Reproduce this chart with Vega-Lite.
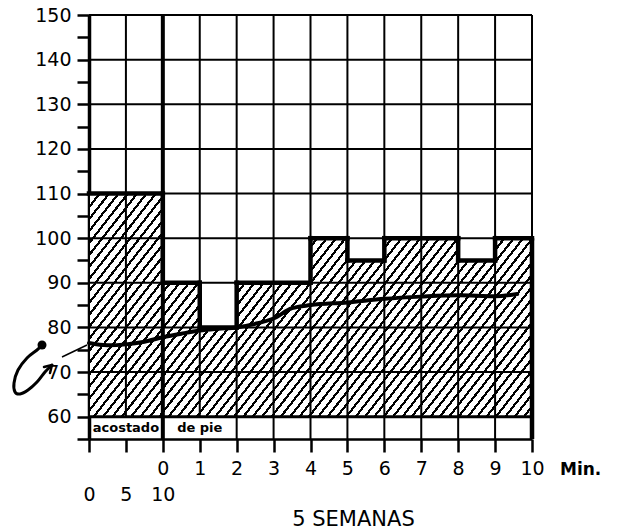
{
  "$schema": "https://vega.github.io/schema/vega-lite/v6.json",
  "width": 443,
  "height": 424,
  "autosize": {"type": "none"},
  "padding": {"left": 89, "top": 15, "right": 85, "bottom": 92},
  "background": "white",
  "config": {
    "view": {"stroke": null},
    "axisX": {"domainColor": "black", "domainWidth": 2.5, "tickColor": "black", "tickWidth": 2.5, "tickSize": 13, "labelFont": "DejaVu Sans", "labelFontSize": 19, "labelColor": "black", "labelPadding": 7, "labelLineHeight": 26, "labelFlush": false, "labelOverlap": false, "labelBound": false, "grid": false, "titleFont": "DejaVu Sans", "titleFontSize": 21, "titleFontWeight": "normal", "titleColor": "black"},
    "axisY": {"domainColor": "black", "domainWidth": 3.5, "tickColor": "black", "tickWidth": 2.5, "tickSize": 12, "labelFont": "DejaVu Sans", "labelFontSize": 19, "labelColor": "black", "labelPadding": 6, "labelFlush": false, "labelOverlap": false, "labelBound": false, "grid": false, "zindex": 1}
  },
  "datasets": {
    "bars": [
      {"start": 0, "end": 2, "value": 110},
      {"start": 2, "end": 3, "value": 90},
      {"start": 3, "end": 4, "value": 80},
      {"start": 4, "end": 6, "value": 90},
      {"start": 6, "end": 7, "value": 100},
      {"start": 7, "end": 8, "value": 95},
      {"start": 8, "end": 10, "value": 100},
      {"start": 10, "end": 11, "value": 95},
      {"start": 11, "end": 12, "value": 100}
    ],
    "cols": [{"c": 0}, {"c": 1}, {"c": 2}, {"c": 3}, {"c": 4}, {"c": 5}, {"c": 6}, {"c": 7}, {"c": 8}, {"c": 9}, {"c": 10}, {"c": 11}, {"c": 12}],
    "rows": [{"r": 60}, {"r": 70}, {"r": 80}, {"r": 90}, {"r": 100}, {"r": 110}, {"r": 120}, {"r": 130}, {"r": 140}, {"r": 150}],
    "pulse": [
      {"t": 0, "bpm": 76.5}, {"t": 0.5, "bpm": 76.0}, {"t": 1, "bpm": 76.2}, {"t": 1.5, "bpm": 76.8},
      {"t": 2, "bpm": 77.8}, {"t": 2.5, "bpm": 78.6}, {"t": 3, "bpm": 79.3}, {"t": 3.5, "bpm": 79.7},
      {"t": 4, "bpm": 80.0}, {"t": 4.5, "bpm": 80.8}, {"t": 5, "bpm": 82.0}, {"t": 5.5, "bpm": 84.3},
      {"t": 6, "bpm": 85.0}, {"t": 7, "bpm": 85.6}, {"t": 8, "bpm": 86.4}, {"t": 9, "bpm": 86.9},
      {"t": 10, "bpm": 87.2}, {"t": 11, "bpm": 87.0}, {"t": 11.6, "bpm": 87.5}
    ],
    "hook": [
      {"k": 0, "t": -1.273, "bpm": 76.06}, {"k": 1, "t": -1.408, "bpm": 74.94}, {"k": 2, "t": -1.679, "bpm": 73.15},
      {"k": 3, "t": -1.923, "bpm": 70.46}, {"k": 4, "t": -2.031, "bpm": 67.55}, {"k": 5, "t": -2.004, "bpm": 65.53},
      {"k": 6, "t": -1.869, "bpm": 65.08}, {"k": 7, "t": -1.652, "bpm": 65.98}, {"k": 8, "t": -1.408, "bpm": 67.77},
      {"k": 9, "t": -1.192, "bpm": 70.01}, {"k": 10, "t": -1.002, "bpm": 71.58}
    ],
    "head": [
      {"k": 0, "t": -1.219, "bpm": 71.13}, {"k": 1, "t": -1.002, "bpm": 71.58}, {"k": 2, "t": -1.056, "bpm": 69.79}
    ],
    "lead": [
      {"k": 0, "t": -0.731, "bpm": 73.37}, {"k": 1, "t": -0.054, "bpm": 76.06}
    ]
  },
  "layer": [
    {
      "data": {"values": [{}]},
      "mark": {"type": "rect", "stroke": null, "fill": {"gradient": "linear", "x1": 0, "y1": 0, "x2": 1.2066, "y2": 0.4749, "stops": [
        {"offset": 0, "color": "#000"}, {"offset": 0.00455, "color": "#000"}, {"offset": 0.00455, "color": "#fff"}, {"offset": 0.01515, "color": "#fff"},
        {"offset": 0.01515, "color": "#000"}, {"offset": 0.0197, "color": "#000"}, {"offset": 0.0197, "color": "#fff"}, {"offset": 0.0303, "color": "#fff"},
        {"offset": 0.0303, "color": "#000"}, {"offset": 0.03485, "color": "#000"}, {"offset": 0.03485, "color": "#fff"}, {"offset": 0.04545, "color": "#fff"},
        {"offset": 0.04545, "color": "#000"}, {"offset": 0.05, "color": "#000"}, {"offset": 0.05, "color": "#fff"}, {"offset": 0.06061, "color": "#fff"},
        {"offset": 0.06061, "color": "#000"}, {"offset": 0.06516, "color": "#000"}, {"offset": 0.06516, "color": "#fff"}, {"offset": 0.07576, "color": "#fff"},
        {"offset": 0.07576, "color": "#000"}, {"offset": 0.08031, "color": "#000"}, {"offset": 0.08031, "color": "#fff"}, {"offset": 0.09091, "color": "#fff"},
        {"offset": 0.09091, "color": "#000"}, {"offset": 0.09546, "color": "#000"}, {"offset": 0.09546, "color": "#fff"}, {"offset": 0.10606, "color": "#fff"},
        {"offset": 0.10606, "color": "#000"}, {"offset": 0.11061, "color": "#000"}, {"offset": 0.11061, "color": "#fff"}, {"offset": 0.12121, "color": "#fff"},
        {"offset": 0.12121, "color": "#000"}, {"offset": 0.12576, "color": "#000"}, {"offset": 0.12576, "color": "#fff"}, {"offset": 0.13636, "color": "#fff"},
        {"offset": 0.13636, "color": "#000"}, {"offset": 0.14091, "color": "#000"}, {"offset": 0.14091, "color": "#fff"}, {"offset": 0.15152, "color": "#fff"},
        {"offset": 0.15152, "color": "#000"}, {"offset": 0.15607, "color": "#000"}, {"offset": 0.15607, "color": "#fff"}, {"offset": 0.16667, "color": "#fff"},
        {"offset": 0.16667, "color": "#000"}, {"offset": 0.17122, "color": "#000"}, {"offset": 0.17122, "color": "#fff"}, {"offset": 0.18182, "color": "#fff"},
        {"offset": 0.18182, "color": "#000"}, {"offset": 0.18637, "color": "#000"}, {"offset": 0.18637, "color": "#fff"}, {"offset": 0.19697, "color": "#fff"},
        {"offset": 0.19697, "color": "#000"}, {"offset": 0.20152, "color": "#000"}, {"offset": 0.20152, "color": "#fff"}, {"offset": 0.21212, "color": "#fff"},
        {"offset": 0.21212, "color": "#000"}, {"offset": 0.21667, "color": "#000"}, {"offset": 0.21667, "color": "#fff"}, {"offset": 0.22727, "color": "#fff"},
        {"offset": 0.22727, "color": "#000"}, {"offset": 0.23182, "color": "#000"}, {"offset": 0.23182, "color": "#fff"}, {"offset": 0.24242, "color": "#fff"},
        {"offset": 0.24242, "color": "#000"}, {"offset": 0.24697, "color": "#000"}, {"offset": 0.24697, "color": "#fff"}, {"offset": 0.25758, "color": "#fff"},
        {"offset": 0.25758, "color": "#000"}, {"offset": 0.26213, "color": "#000"}, {"offset": 0.26213, "color": "#fff"}, {"offset": 0.27273, "color": "#fff"},
        {"offset": 0.27273, "color": "#000"}, {"offset": 0.27728, "color": "#000"}, {"offset": 0.27728, "color": "#fff"}, {"offset": 0.28788, "color": "#fff"},
        {"offset": 0.28788, "color": "#000"}, {"offset": 0.29243, "color": "#000"}, {"offset": 0.29243, "color": "#fff"}, {"offset": 0.30303, "color": "#fff"},
        {"offset": 0.30303, "color": "#000"}, {"offset": 0.30758, "color": "#000"}, {"offset": 0.30758, "color": "#fff"}, {"offset": 0.31818, "color": "#fff"},
        {"offset": 0.31818, "color": "#000"}, {"offset": 0.32273, "color": "#000"}, {"offset": 0.32273, "color": "#fff"}, {"offset": 0.33333, "color": "#fff"},
        {"offset": 0.33333, "color": "#000"}, {"offset": 0.33788, "color": "#000"}, {"offset": 0.33788, "color": "#fff"}, {"offset": 0.34848, "color": "#fff"},
        {"offset": 0.34848, "color": "#000"}, {"offset": 0.35303, "color": "#000"}, {"offset": 0.35303, "color": "#fff"}, {"offset": 0.36364, "color": "#fff"},
        {"offset": 0.36364, "color": "#000"}, {"offset": 0.36819, "color": "#000"}, {"offset": 0.36819, "color": "#fff"}, {"offset": 0.37879, "color": "#fff"},
        {"offset": 0.37879, "color": "#000"}, {"offset": 0.38334, "color": "#000"}, {"offset": 0.38334, "color": "#fff"}, {"offset": 0.39394, "color": "#fff"},
        {"offset": 0.39394, "color": "#000"}, {"offset": 0.39849, "color": "#000"}, {"offset": 0.39849, "color": "#fff"}, {"offset": 0.40909, "color": "#fff"},
        {"offset": 0.40909, "color": "#000"}, {"offset": 0.41364, "color": "#000"}, {"offset": 0.41364, "color": "#fff"}, {"offset": 0.42424, "color": "#fff"},
        {"offset": 0.42424, "color": "#000"}, {"offset": 0.42879, "color": "#000"}, {"offset": 0.42879, "color": "#fff"}, {"offset": 0.43939, "color": "#fff"},
        {"offset": 0.43939, "color": "#000"}, {"offset": 0.44394, "color": "#000"}, {"offset": 0.44394, "color": "#fff"}, {"offset": 0.45455, "color": "#fff"},
        {"offset": 0.45455, "color": "#000"}, {"offset": 0.4591, "color": "#000"}, {"offset": 0.4591, "color": "#fff"}, {"offset": 0.4697, "color": "#fff"},
        {"offset": 0.4697, "color": "#000"}, {"offset": 0.47425, "color": "#000"}, {"offset": 0.47425, "color": "#fff"}, {"offset": 0.48485, "color": "#fff"},
        {"offset": 0.48485, "color": "#000"}, {"offset": 0.4894, "color": "#000"}, {"offset": 0.4894, "color": "#fff"}, {"offset": 0.5, "color": "#fff"},
        {"offset": 0.5, "color": "#000"}, {"offset": 0.50455, "color": "#000"}, {"offset": 0.50455, "color": "#fff"}, {"offset": 0.51515, "color": "#fff"},
        {"offset": 0.51515, "color": "#000"}, {"offset": 0.5197, "color": "#000"}, {"offset": 0.5197, "color": "#fff"}, {"offset": 0.5303, "color": "#fff"},
        {"offset": 0.5303, "color": "#000"}, {"offset": 0.53485, "color": "#000"}, {"offset": 0.53485, "color": "#fff"}, {"offset": 0.54545, "color": "#fff"},
        {"offset": 0.54545, "color": "#000"}, {"offset": 0.55, "color": "#000"}, {"offset": 0.55, "color": "#fff"}, {"offset": 0.56061, "color": "#fff"},
        {"offset": 0.56061, "color": "#000"}, {"offset": 0.56516, "color": "#000"}, {"offset": 0.56516, "color": "#fff"}, {"offset": 0.57576, "color": "#fff"},
        {"offset": 0.57576, "color": "#000"}, {"offset": 0.58031, "color": "#000"}, {"offset": 0.58031, "color": "#fff"}, {"offset": 0.59091, "color": "#fff"},
        {"offset": 0.59091, "color": "#000"}, {"offset": 0.59546, "color": "#000"}, {"offset": 0.59546, "color": "#fff"}, {"offset": 0.60606, "color": "#fff"},
        {"offset": 0.60606, "color": "#000"}, {"offset": 0.61061, "color": "#000"}, {"offset": 0.61061, "color": "#fff"}, {"offset": 0.62121, "color": "#fff"},
        {"offset": 0.62121, "color": "#000"}, {"offset": 0.62576, "color": "#000"}, {"offset": 0.62576, "color": "#fff"}, {"offset": 0.63636, "color": "#fff"},
        {"offset": 0.63636, "color": "#000"}, {"offset": 0.64091, "color": "#000"}, {"offset": 0.64091, "color": "#fff"}, {"offset": 0.65152, "color": "#fff"},
        {"offset": 0.65152, "color": "#000"}, {"offset": 0.65607, "color": "#000"}, {"offset": 0.65607, "color": "#fff"}, {"offset": 0.66667, "color": "#fff"},
        {"offset": 0.66667, "color": "#000"}, {"offset": 0.67122, "color": "#000"}, {"offset": 0.67122, "color": "#fff"}, {"offset": 0.68182, "color": "#fff"},
        {"offset": 0.68182, "color": "#000"}, {"offset": 0.68637, "color": "#000"}, {"offset": 0.68637, "color": "#fff"}, {"offset": 0.69697, "color": "#fff"},
        {"offset": 0.69697, "color": "#000"}, {"offset": 0.70152, "color": "#000"}, {"offset": 0.70152, "color": "#fff"}, {"offset": 0.71212, "color": "#fff"},
        {"offset": 0.71212, "color": "#000"}, {"offset": 0.71667, "color": "#000"}, {"offset": 0.71667, "color": "#fff"}, {"offset": 0.72727, "color": "#fff"},
        {"offset": 0.72727, "color": "#000"}, {"offset": 0.73182, "color": "#000"}, {"offset": 0.73182, "color": "#fff"}, {"offset": 0.74242, "color": "#fff"},
        {"offset": 0.74242, "color": "#000"}, {"offset": 0.74697, "color": "#000"}, {"offset": 0.74697, "color": "#fff"}, {"offset": 0.75758, "color": "#fff"},
        {"offset": 0.75758, "color": "#000"}, {"offset": 0.76213, "color": "#000"}, {"offset": 0.76213, "color": "#fff"}, {"offset": 0.77273, "color": "#fff"},
        {"offset": 0.77273, "color": "#000"}, {"offset": 0.77728, "color": "#000"}, {"offset": 0.77728, "color": "#fff"}, {"offset": 0.78788, "color": "#fff"},
        {"offset": 0.78788, "color": "#000"}, {"offset": 0.79243, "color": "#000"}, {"offset": 0.79243, "color": "#fff"}, {"offset": 0.80303, "color": "#fff"},
        {"offset": 0.80303, "color": "#000"}, {"offset": 0.80758, "color": "#000"}, {"offset": 0.80758, "color": "#fff"}, {"offset": 0.81818, "color": "#fff"},
        {"offset": 0.81818, "color": "#000"}, {"offset": 0.82273, "color": "#000"}, {"offset": 0.82273, "color": "#fff"}, {"offset": 0.83333, "color": "#fff"},
        {"offset": 0.83333, "color": "#000"}, {"offset": 0.83788, "color": "#000"}, {"offset": 0.83788, "color": "#fff"}, {"offset": 0.84848, "color": "#fff"},
        {"offset": 0.84848, "color": "#000"}, {"offset": 0.85303, "color": "#000"}, {"offset": 0.85303, "color": "#fff"}, {"offset": 0.86364, "color": "#fff"},
        {"offset": 0.86364, "color": "#000"}, {"offset": 0.86819, "color": "#000"}, {"offset": 0.86819, "color": "#fff"}, {"offset": 0.87879, "color": "#fff"},
        {"offset": 0.87879, "color": "#000"}, {"offset": 0.88334, "color": "#000"}, {"offset": 0.88334, "color": "#fff"}, {"offset": 0.89394, "color": "#fff"},
        {"offset": 0.89394, "color": "#000"}, {"offset": 0.89849, "color": "#000"}, {"offset": 0.89849, "color": "#fff"}, {"offset": 0.90909, "color": "#fff"},
        {"offset": 0.90909, "color": "#000"}, {"offset": 0.91364, "color": "#000"}, {"offset": 0.91364, "color": "#fff"}, {"offset": 0.92424, "color": "#fff"},
        {"offset": 0.92424, "color": "#000"}, {"offset": 0.92879, "color": "#000"}, {"offset": 0.92879, "color": "#fff"}, {"offset": 0.93939, "color": "#fff"},
        {"offset": 0.93939, "color": "#000"}, {"offset": 0.94394, "color": "#000"}, {"offset": 0.94394, "color": "#fff"}, {"offset": 0.95455, "color": "#fff"},
        {"offset": 0.95455, "color": "#000"}, {"offset": 0.9591, "color": "#000"}, {"offset": 0.9591, "color": "#fff"}, {"offset": 0.9697, "color": "#fff"},
        {"offset": 0.9697, "color": "#000"}, {"offset": 0.97425, "color": "#000"}, {"offset": 0.97425, "color": "#fff"}, {"offset": 0.98485, "color": "#fff"},
        {"offset": 0.98485, "color": "#000"}, {"offset": 0.9894, "color": "#000"}, {"offset": 0.9894, "color": "#fff"}, {"offset": 1, "color": "#fff"}
      ]}},
      "encoding": {
        "x": {"datum": 0, "type": "quantitative", "scale": {"domain": [0, 12], "nice": false, "zero": false},
          "axis": {"title": "5 SEMANAS", "values": [0, 1, 2, 3, 4, 5, 6, 7, 8, 9, 10, 11, 12], "tickCount": 13,
            "labelExpr": "datum.value == 0 ? ['', '0'] : datum.value == 1 ? ['', '5'] : datum.value == 2 ? ['0', '10'] : '' + (datum.value - 2)",
            "labelBaseline": "top", "labelOverlap": false,
            "titleX": 264, "titleY": 80, "titleAlign": "center", "titleBaseline": "middle"}},
        "x2": {"datum": 12},
        "y": {"datum": 60, "type": "quantitative", "scale": {"domain": [55, 150], "nice": false, "zero": false},
          "axis": {"title": null, "grid": false, "labelOverlap": false, "tickCount": 20, "values": [55, 60, 65, 70, 75, 80, 85, 90, 95, 100, 105, 110, 115, 120, 125, 130, 135, 140, 145, 150],
            "labelExpr": "datum.value % 10 == 0 && datum.value >= 60 ? '' + datum.value : ''"}},
        "y2": {"datum": 110}
      }
    },
    {
      "data": {"name": "bars"},
      "mark": {"type": "rect", "fill": "white", "stroke": null},
      "encoding": {
        "x": {"field": "start", "type": "quantitative", "scale": {"domain": [0, 12], "nice": false, "zero": false}},
        "x2": {"field": "end"},
        "y": {"field": "value", "type": "quantitative", "scale": {"domain": [55, 150], "nice": false, "zero": false}},
        "y2": {"datum": 110.3}
      }
    },
    {
      "data": {"name": "cols"},
      "mark": {"type": "rule", "color": "black", "strokeWidth": 2},
      "encoding": {
        "x": {"field": "c", "type": "quantitative", "scale": {"domain": [0, 12], "nice": false, "zero": false}},
        "y": {"datum": 60, "type": "quantitative", "scale": {"domain": [55, 150], "nice": false, "zero": false}},
        "y2": {"datum": 150}
      }
    },
    {
      "data": {"name": "rows"},
      "mark": {"type": "rule", "color": "black"},
      "encoding": {
        "x": {"datum": 0, "type": "quantitative", "scale": {"domain": [0, 12], "nice": false, "zero": false}},
        "x2": {"datum": 12},
        "y": {"field": "r", "type": "quantitative", "scale": {"domain": [55, 150], "nice": false, "zero": false}},
        "strokeWidth": {"condition": {"test": "datum.r == 60", "value": 3}, "value": 2}
      }
    },
    {
      "data": {"name": "cols"},
      "transform": [{"filter": "datum.c >= 4 && datum.c <= 11"}],
      "mark": {"type": "rule", "color": "black", "strokeWidth": 2},
      "encoding": {
        "x": {"field": "c", "type": "quantitative", "scale": {"domain": [0, 12], "nice": false, "zero": false}},
        "y": {"datum": 55, "type": "quantitative", "scale": {"domain": [55, 150], "nice": false, "zero": false}},
        "y2": {"datum": 60}
      }
    },
    {
      "data": {"name": "bars"},
      "mark": {"type": "rule", "color": "black", "strokeWidth": 4.5, "strokeCap": "square"},
      "encoding": {
        "x": {"field": "start", "type": "quantitative", "scale": {"domain": [0, 12], "nice": false, "zero": false}},
        "x2": {"field": "end"},
        "y": {"field": "value", "type": "quantitative", "scale": {"domain": [55, 150], "nice": false, "zero": false}}
      }
    },
    {
      "data": {"name": "bars"},
      "transform": [
        {"window": [{"op": "lag", "field": "value", "as": "prev"}], "sort": [{"field": "start"}]},
        {"filter": "datum.prev != null"}
      ],
      "mark": {"type": "rule", "color": "black", "strokeWidth": 4.5, "strokeCap": "square"},
      "encoding": {
        "x": {"field": "start", "type": "quantitative", "scale": {"domain": [0, 12], "nice": false, "zero": false}},
        "y": {"field": "prev", "type": "quantitative", "scale": {"domain": [55, 150], "nice": false, "zero": false}},
        "y2": {"field": "value"}
      }
    },
    {
      "data": {"values": [{}]},
      "mark": {"type": "rule", "color": "black", "strokeWidth": 4},
      "encoding": {
        "x": {"datum": 2, "type": "quantitative", "scale": {"domain": [0, 12], "nice": false, "zero": false}},
        "y": {"datum": 55, "type": "quantitative", "scale": {"domain": [55, 150], "nice": false, "zero": false}},
        "y2": {"datum": 150}
      }
    },
    {
      "data": {"values": [{}]},
      "mark": {"type": "rule", "color": "black", "strokeWidth": 4.5},
      "encoding": {
        "x": {"datum": 12, "type": "quantitative", "scale": {"domain": [0, 12], "nice": false, "zero": false}},
        "y": {"datum": 55, "type": "quantitative", "scale": {"domain": [55, 150], "nice": false, "zero": false}},
        "y2": {"datum": 100}
      }
    },
    {
      "data": {"name": "pulse"},
      "mark": {"type": "line", "color": "black", "strokeWidth": 4, "interpolate": "monotone", "strokeCap": "round"},
      "encoding": {
        "x": {"field": "t", "type": "quantitative", "scale": {"domain": [0, 12], "nice": false, "zero": false}},
        "y": {"field": "bpm", "type": "quantitative", "scale": {"domain": [55, 150], "nice": false, "zero": false}}
      }
    },
    {
      "data": {"name": "hook"},
      "mark": {"type": "line", "color": "black", "strokeWidth": 3, "interpolate": "cardinal", "strokeCap": "round"},
      "encoding": {
        "x": {"field": "t", "type": "quantitative", "scale": {"domain": [0, 12], "nice": false, "zero": false}},
        "y": {"field": "bpm", "type": "quantitative", "scale": {"domain": [55, 150], "nice": false, "zero": false}},
        "order": {"field": "k"}
      }
    },
    {
      "data": {"name": "head"},
      "mark": {"type": "line", "color": "black", "strokeWidth": 2.5, "strokeCap": "round", "strokeJoin": "round"},
      "encoding": {
        "x": {"field": "t", "type": "quantitative", "scale": {"domain": [0, 12], "nice": false, "zero": false}},
        "y": {"field": "bpm", "type": "quantitative", "scale": {"domain": [55, 150], "nice": false, "zero": false}},
        "order": {"field": "k"}
      }
    },
    {
      "data": {"name": "lead"},
      "mark": {"type": "line", "color": "black", "strokeWidth": 1.5},
      "encoding": {
        "x": {"field": "t", "type": "quantitative", "scale": {"domain": [0, 12], "nice": false, "zero": false}},
        "y": {"field": "bpm", "type": "quantitative", "scale": {"domain": [55, 150], "nice": false, "zero": false}},
        "order": {"field": "k"}
      }
    },
    {
      "data": {"values": [{}]},
      "mark": {"type": "point", "filled": true, "color": "black", "size": 80, "opacity": 1},
      "encoding": {
        "x": {"datum": -1.273, "type": "quantitative", "scale": {"domain": [0, 12], "nice": false, "zero": false}},
        "y": {"datum": 76.06, "type": "quantitative", "scale": {"domain": [55, 150], "nice": false, "zero": false}}
      }
    },
    {
      "data": {"values": [{}]},
      "mark": {"type": "text", "text": "acostado", "font": "DejaVu Sans", "fontSize": 13, "fontWeight": "bold", "color": "black", "align": "center", "baseline": "middle"},
      "encoding": {
        "x": {"datum": 1, "type": "quantitative", "scale": {"domain": [0, 12], "nice": false, "zero": false}},
        "y": {"datum": 57.4, "type": "quantitative", "scale": {"domain": [55, 150], "nice": false, "zero": false}}
      }
    },
    {
      "data": {"values": [{}]},
      "mark": {"type": "text", "text": "de pie", "font": "DejaVu Sans", "fontSize": 13, "fontWeight": "bold", "color": "black", "align": "center", "baseline": "middle"},
      "encoding": {
        "x": {"datum": 3, "type": "quantitative", "scale": {"domain": [0, 12], "nice": false, "zero": false}},
        "y": {"datum": 57.4, "type": "quantitative", "scale": {"domain": [55, 150], "nice": false, "zero": false}}
      }
    },
    {
      "data": {"values": [{}]},
      "mark": {"type": "text", "text": "Min.", "font": "DejaVu Sans", "fontSize": 17, "fontWeight": "bold", "color": "black", "align": "left", "baseline": "middle", "dx": 28, "dy": 31},
      "encoding": {
        "x": {"datum": 12, "type": "quantitative", "scale": {"domain": [0, 12], "nice": false, "zero": false}},
        "y": {"datum": 55, "type": "quantitative", "scale": {"domain": [55, 150], "nice": false, "zero": false}}
      }
    }
  ]
}
